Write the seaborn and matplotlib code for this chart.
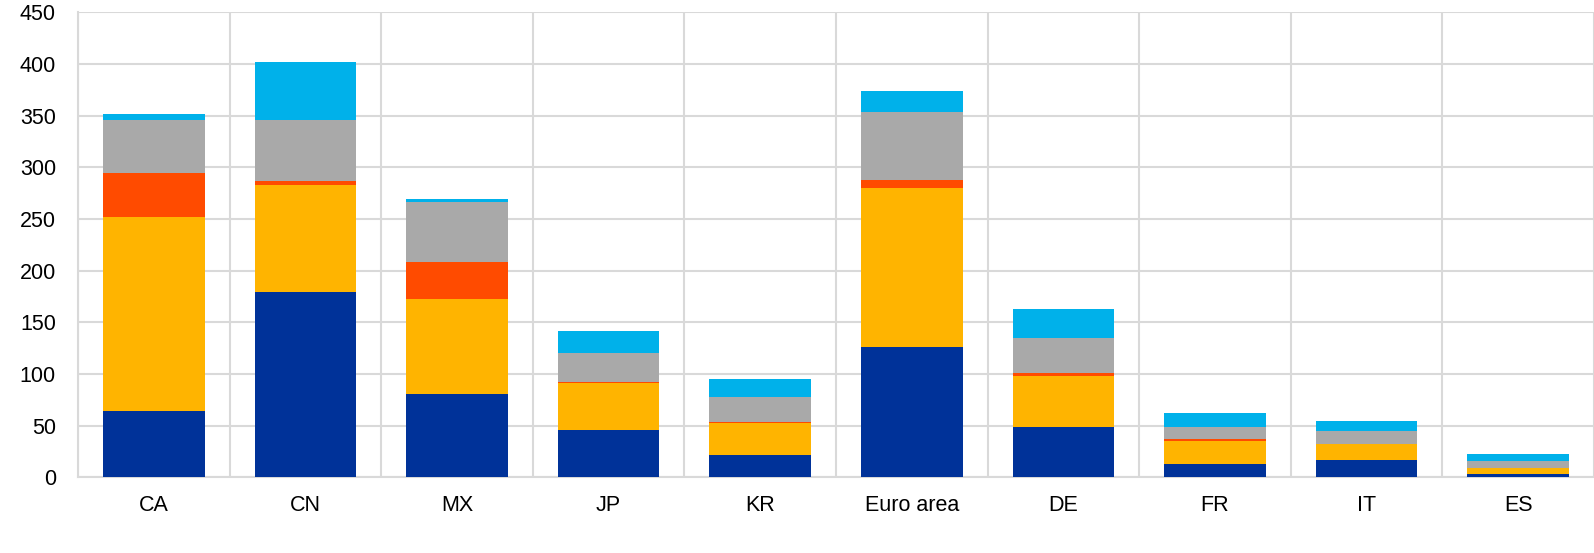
import numpy as np
import pandas as pd
import matplotlib.pyplot as plt
import seaborn as sns
from matplotlib.ticker import MultipleLocator

# 数据
countries = ['CA', 'CN', 'MX', 'JP', 'KR', 'Euro area', 'DE', 'FR', 'IT', 'ES']
seg_blue = [64.5, 179, 81, 46, 22, 126, 49, 13, 17, 3]
seg_yellow = [187.5, 104, 91, 45, 30, 153.5, 49, 22.5, 15.5, 5.5]
seg_red = [42, 3.5, 36.5, 1.5, 1.5, 8.5, 2.5, 1.3, 0, 0]
seg_grey = [52, 59.5, 58, 28, 24, 65, 34.5, 12, 12, 7]
seg_cyan = [5, 56, 3, 21, 17.5, 21, 28, 13, 9.5, 7]

layers = [seg_blue, seg_yellow, seg_red, seg_grey, seg_cyan]
colors = ['#003299', '#FFB400', '#FF4B00', '#A9A9A9', '#00B1EA']

sns.set_style('white')
plt.rcParams['font.family'] = ['Liberation Sans', 'DejaVu Sans']

fig = plt.figure(figsize=(15.94, 5.53), dpi=100)
ax = fig.add_axes([0.049, 0.137, 0.951, 0.841])

# 累计高度，从最高层往下画
cum = np.cumsum(np.array(layers), axis=0)
for i in range(len(layers) - 1, -1, -1):
    df = pd.DataFrame({'country': countries, 'value': cum[i]})
    sns.barplot(data=df, x='country', y='value', color=colors[i],
                width=0.67, saturation=1, ax=ax, zorder=3, linewidth=0)

ax.set_xlim(-0.5, len(countries) - 0.5)
ax.set_ylim(0, 450)
ax.yaxis.set_major_locator(MultipleLocator(50))
ax.set_xticks(np.arange(-0.5, len(countries), 1), minor=True)
ax.grid(axis='y', which='major', color='#d9d9d9', linewidth=1.5, zorder=0)
ax.grid(axis='x', which='minor', color='#d9d9d9', linewidth=1.5, zorder=0)
ax.grid(axis='x', which='major', visible=False)
ax.tick_params(axis='both', which='both', length=0, labelsize=15.5, colors='black')
ax.tick_params(axis='x', pad=13)
ax.tick_params(axis='y', pad=16)
ax.set_xlabel('')
ax.set_ylabel('')
for s in ['top', 'right']:
    ax.spines[s].set_visible(False)
for s in ['left', 'bottom']:
    ax.spines[s].set_color('#d9d9d9')
    ax.spines[s].set_linewidth(1.5)

fig.savefig('out.png', dpi=100)
